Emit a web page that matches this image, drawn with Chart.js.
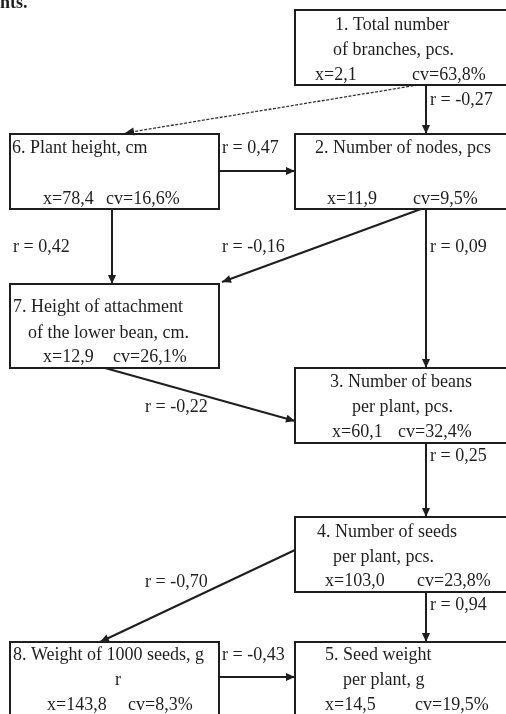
<!DOCTYPE html>
<html>
<head>
<meta charset="utf-8">
<script src="https://cdn.jsdelivr.net/npm/chart.js@4/dist/chart.umd.min.js"></script>
<style>
  html, body { margin: 0; padding: 0; background: #fff; }
  #wrap { width: 506px; height: 714px; }
</style>
</head>
<body>
<div id="wrap"><canvas id="pathChart" width="506" height="714"></canvas></div>
<script>
// traits (node order 1..8)
const nodeTitles = [
    ['1. Total number', 'of branches, pcs.'],
    ['2. Number of nodes, pcs'],
    ['3. Number of beans', 'per plant, pcs.'],
    ['4. Number of seeds', 'per plant, pcs.'],
    ['5. Seed weight', 'per plant, g'],
    ['6. Plant height, cm'],
    ['7. Height of attachment', 'of the lower bean, cm.'],
    ['8. Weight of 1000 seeds, g', 'r']
];
const nodeMeans = ['2,1', '11,9', '60,1', '103,0', '14,5', '78,4', '12,9', '143,8'];
const nodeCV    = ['63,8', '9,5', '32,4', '23,8', '19,5', '16,6', '26,1', '8,3'];

// correlations between traits
const linkFrom = [1, 1, 6, 6, 2, 2, 7, 3, 4, 4, 8];
const linkTo   = [2, 6, 2, 7, 7, 3, 3, 4, 5, 8, 5];
const linkR    = ['-0,27', null, '0,47', '0,42', '-0,16', '0,09', '-0,22', '0,25', '0,94', '-0,70', '-0,43'];

// layout in diagram units (same as page px)
const boxRect = [
    [295, 10, 510, 85],
    [295, 134, 510, 209],
    [295, 368, 510, 443],
    [295, 517, 510, 592],
    [295, 642, 510, 720],
    [10, 134, 219, 209],
    [10, 284, 219, 368],
    [10, 642, 219, 720]
];
const titlePos = [
    [[335, 25], [333, 50]],
    [[315, 148]],
    [[330, 382], [352, 407]],
    [[317, 532], [333, 557]],
    [[325, 655], [343, 680]],
    [[12, 148]],
    [[13, 307], [28, 333]],
    [[13, 655], [115, 680]]
];
const statPos = [
    [315, 412, 75], [327, 413, 199], [332, 398, 432], [325, 417, 581],
    [325, 415, 705], [43, 106, 199], [43, 113, 357], [47, 128, 705]
];
const linkPath = [
    [426, 85, 426, 134], [418, 85, 125, 133], [219, 171, 295, 171],
    [112, 209, 112, 284], [421, 209, 222, 282], [426, 209, 426, 368],
    [105, 368, 295, 421], [426, 443, 426, 517], [426, 592, 426, 642],
    [295, 550, 100, 642], [219, 677, 295, 677]
];
const labelPos = [
    [430, 100], null, [222, 148], [13, 247], [222, 247], [430, 247],
    [145, 407], [430, 456], [430, 605], [145, 582], [222, 655]
];

const FONT = '18px "Liberation Serif", "Times New Roman", serif';
const INK = '#1e1e1e';

const datasets = linkPath.map((p, i) => ({
    label: linkFrom[i] + '-' + linkTo[i],
    data: [{x: p[0], y: p[1]}, {x: p[2], y: p[3]}],
    showLine: true,
    borderColor: linkR[i] === null ? '#333' : INK,
    borderWidth: linkR[i] === null ? 1.3 : 2,
    borderDash: linkR[i] === null ? [3, 1.5] : [],
    pointRadius: 0,
    pointHoverRadius: 0
}));

const diagramPlugin = {
    id: 'diagram',
    beforeDraw(chart) {
        const c = chart.ctx;
        c.save();
        c.fillStyle = '#fff';
        c.fillRect(0, 0, chart.width, chart.height);
        c.restore();
    },
    afterDatasetsDraw(chart) {
        const c = chart.ctx;
        const sx = chart.scales.x, sy = chart.scales.y;
        const px = v => sx.getPixelForValue(v);
        const py = v => sy.getPixelForValue(v);
        c.save();

        // boxes
        c.strokeStyle = INK;
        c.lineWidth = 2;
        boxRect.forEach(b => {
            c.strokeRect(px(b[0]), py(b[1]), px(b[2]) - px(b[0]), py(b[3]) - py(b[1]));
        });

        // arrow heads
        c.fillStyle = INK;
        linkPath.forEach(p => {
            const x2 = px(p[2]), y2 = py(p[3]);
            const a = Math.atan2(y2 - py(p[1]), x2 - px(p[0]));
            const len = 9, w = 4;
            c.beginPath();
            c.moveTo(x2, y2);
            c.lineTo(x2 - len * Math.cos(a) + w * Math.sin(a), y2 - len * Math.sin(a) - w * Math.cos(a));
            c.lineTo(x2 - len * Math.cos(a) - w * Math.sin(a), y2 - len * Math.sin(a) + w * Math.cos(a));
            c.closePath();
            c.fill();
        });

        // texts
        c.font = FONT;
        c.textAlign = 'left';
        c.textBaseline = 'middle';
        nodeTitles.forEach((lines, i) => {
            lines.forEach((t, j) => {
                c.fillText(t, px(titlePos[i][j][0]), py(titlePos[i][j][1]));
            });
            const s = statPos[i];
            c.fillText('x=' + nodeMeans[i], px(s[0]), py(s[2]));
            c.fillText('cv=' + nodeCV[i] + '%', px(s[1]), py(s[2]));
        });
        linkR.forEach((r, i) => {
            if (r === null) return;
            c.fillText('r = ' + r, px(labelPos[i][0]), py(labelPos[i][1]));
        });

        // caption tail cut off at the top of the picture
        c.font = 'bold 18px "Liberation Serif", serif';
        c.textBaseline = 'alphabetic';
        c.fillText('nts.', 0, 8);
        c.restore();
    }
};

const ctx = document.getElementById('pathChart').getContext('2d');
const pathChart = new Chart(ctx, {
    type: 'scatter',
    data: { datasets: datasets },
    options: {
        responsive: false,
        animation: false,
        events: [],
        layout: { padding: 0 },
        plugins: {
            legend: { display: false },
            tooltip: { enabled: false }
        },
        scales: {
            x: { type: 'linear', min: 0, max: 506, display: false },
            y: { type: 'linear', min: 0, max: 714, reverse: true, display: false }
        }
    },
    plugins: [diagramPlugin]
});
</script>
</body>
</html>
